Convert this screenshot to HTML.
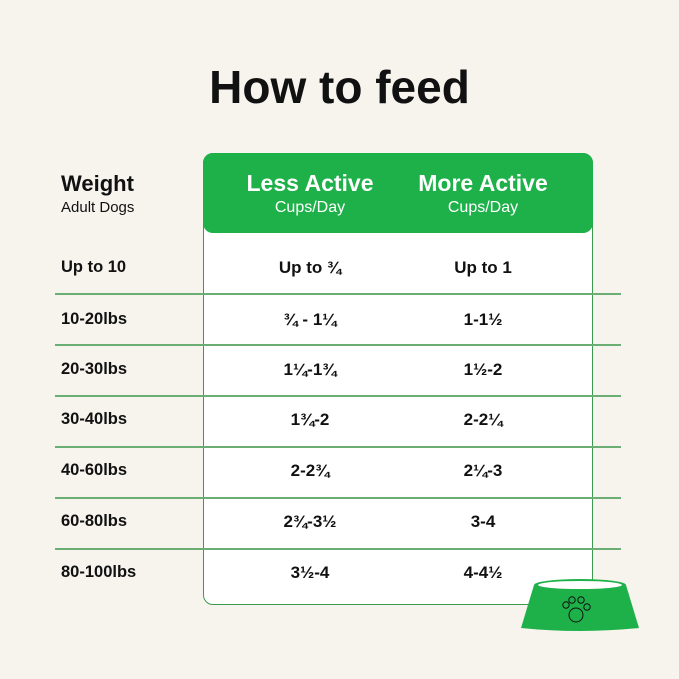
<!DOCTYPE html>
<html><head><style>
body{margin:0;width:679px;height:679px;background:#f7f4ee;font-family:"Liberation Sans",sans-serif;position:relative;overflow:hidden;color:#111}
.t{position:absolute;white-space:nowrap}
.title{left:0;width:679px;text-align:center;top:60px;font-size:46px;font-weight:bold;letter-spacing:0px}
.box{position:absolute;left:203px;top:153px;width:390px;height:452px;background:#fff;border:1.5px solid #3a9a4e;border-radius:10px;box-sizing:border-box}
.hdr{position:absolute;left:203px;top:153px;width:390px;height:80px;background:#1eb14a;border-radius:10px}
.line{position:absolute;left:55px;width:566px;height:1.5px;background:#6aae74}
.c{text-align:center;width:180px;font-weight:bold;font-size:17px}
.h{color:#fff;font-size:23px;font-weight:bold;text-align:center;width:180px}
.s{color:#fff;font-size:16px;text-align:center;width:180px}
.l{left:61px;font-weight:bold;font-size:16.5px}
</style></head><body>
<div class="t title">How to feed</div>
<div class="box"></div>
<div class="hdr"></div>
<div class="t h" style="left:220px;top:170px">Less Active</div>
<div class="t s" style="left:220px;top:199px">Cups/Day</div>
<div class="t h" style="left:393px;top:170px">More Active</div>
<div class="t s" style="left:393px;top:199px">Cups/Day</div>
<div class="t" style="left:61px;top:171px;font-size:22px;font-weight:bold">Weight</div>
<div class="t" style="left:61px;top:199px;font-size:15px">Adult Dogs</div>
<div class="line" style="top:293px"></div>
<div class="line" style="top:344px"></div>
<div class="line" style="top:395px"></div>
<div class="line" style="top:446px"></div>
<div class="line" style="top:497px"></div>
<div class="line" style="top:548px"></div>

<div class="t l" style="top:258px">Up to 10</div>
<div class="t c" style="left:220px;top:258px">Up to ¾</div>
<div class="t c" style="left:393px;top:258px">Up to 1</div>

<div class="t l" style="top:310px">10-20lbs</div>
<div class="t c" style="left:220px;top:310px">¾ - 1¼</div>
<div class="t c" style="left:393px;top:310px">1-1½</div>

<div class="t l" style="top:360px">20-30lbs</div>
<div class="t c" style="left:220px;top:360px">1¼-1¾</div>
<div class="t c" style="left:393px;top:360px">1½-2</div>

<div class="t l" style="top:410px">30-40lbs</div>
<div class="t c" style="left:220px;top:410px">1¾-2</div>
<div class="t c" style="left:393px;top:410px">2-2¼</div>

<div class="t l" style="top:461px">40-60lbs</div>
<div class="t c" style="left:220px;top:461px">2-2¾</div>
<div class="t c" style="left:393px;top:461px">2¼-3</div>

<div class="t l" style="top:512px">60-80lbs</div>
<div class="t c" style="left:220px;top:512px">2¾-3½</div>
<div class="t c" style="left:393px;top:512px">3-4</div>

<div class="t l" style="top:563px">80-100lbs</div>
<div class="t c" style="left:220px;top:563px">3½-4</div>
<div class="t c" style="left:393px;top:563px">4-4½</div>

<svg style="position:absolute;left:520px;top:575px" width="120" height="60" viewBox="0 0 120 60">
<path d="M14 10 L1 53 Q60 59 119 53 L106 10 Z" fill="#1eb14a"/>
<ellipse cx="60" cy="10" rx="46" ry="6" fill="#1eb14a"/>
<ellipse cx="60" cy="10" rx="42" ry="4" fill="#fff"/>
<g fill="none" stroke="#111" stroke-width="1">
<circle cx="56" cy="40" r="7"/>
<circle cx="46" cy="30" r="3.2"/><circle cx="52" cy="25" r="3.2"/><circle cx="61" cy="25" r="3.2"/><circle cx="67" cy="32" r="3.2"/>
</g>
</svg>
</body></html>
